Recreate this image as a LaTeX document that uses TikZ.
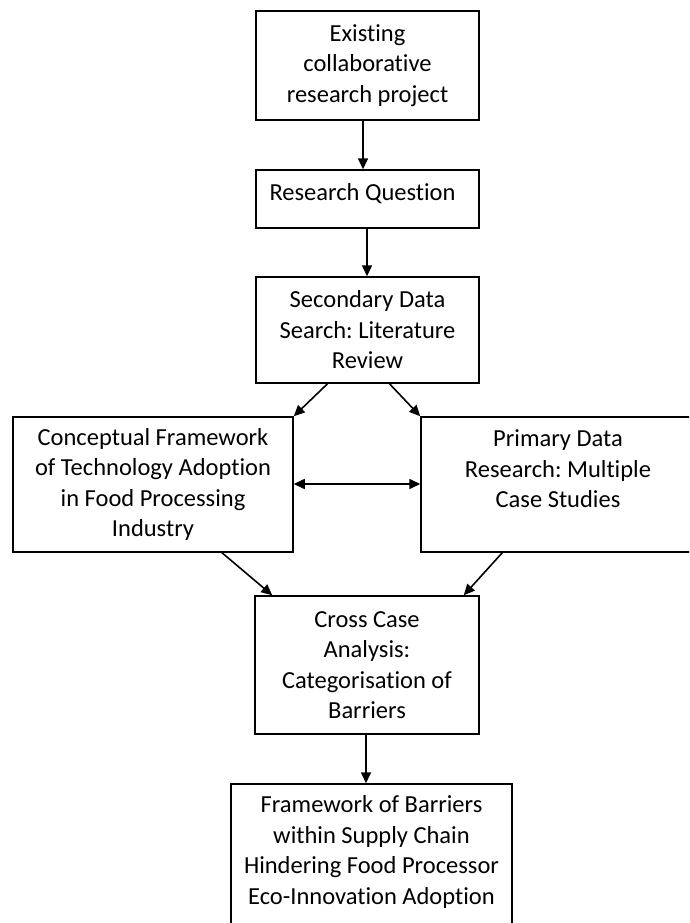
\documentclass[tikz,border=0pt]{standalone}
\usepackage{fontspec}
\setmainfont{Carlito}[Ligatures={NoCommon}]
\usetikzlibrary{arrows.meta,calc}
\frenchspacing
\begin{document}
\begin{tikzpicture}[x=1pt,y=-1pt,
  box/.style={draw=black,line width=1.5pt,rectangle,inner sep=0pt,align=center},
  txt/.style={align=center,inner sep=0pt},
  arr/.style={line width=1.6pt,-{Triangle[length=11pt,width=10pt]}},
  every node/.style={font=\fontsize{24.5}{30.5}\selectfont}]
\useasboundingbox (0,0) rectangle (689,923);
\clip (0,0) rectangle (689,923);
% boxes
\node[box,minimum width=223pt,minimum height=109pt] (b1) at (367.5,65.5) {Existing\\collaborative\\research project};
\node[box,minimum width=223pt,minimum height=58pt] (b2) at (367.5,199) {};
\node[txt] (t2) at (362.5,194) {Research Question};
\node[box,minimum width=223pt,minimum height=106pt] (b3) at (367.5,330) {Secondary Data\\Search: Literature\\Review};
\node[box,minimum width=280pt,minimum height=135pt] (bl) at (153,484.5) {Conceptual Framework\\of Technology Adoption\\in Food Processing\\Industry};
\node[box,minimum width=290pt,minimum height=135pt] (br) at (566,484.5) {};
\node[txt] (tr) at (558,469) {Primary Data\\Research: Multiple\\Case Studies};
\node[box,minimum width=224pt,minimum height=138pt] (bc) at (367,665) {Cross Case\\Analysis:\\Categorisation of\\Barriers};
\node[box,minimum width=281pt,minimum height=160pt] (bf) at (371.5,864) {};
\node[txt] (tf) at (371.5,852) {Framework of Barriers\\within Supply Chain\\Hindering Food Processor\\Eco-Innovation Adoption};
% connectors
\draw[arr] ($(b1.south)+(-4.5,0)$) -- ($(b2.north)+(-4.5,0)$);
\draw[arr] ($(b2.south)+(-0.5,0)$) -- ($(b3.north)+(-0.5,0)$);
\draw[arr] ($(b3.south)+(-40,0)$) -- (bl.north east);
\draw[arr] ($(b3.south)+(22,0)$) -- (br.north west);
\draw[line width=1.6pt,{Triangle[length=11pt,width=10pt]}-{Triangle[length=11pt,width=10pt]}] ($(bl.east)+(0,-0.5)$) -- ($(br.west)+(0,-0.5)$);
\draw[arr] ($(bl.south)+(69,0)$) -- ($(bc.north west)+(18,0)$);
\draw[arr] ($(br.south west)+(82,0)$) -- ($(bc.north east)+(-16,0)$);
\draw[arr] ($(bc.south)+(-1,0)$) -- ($(bf.north)+(-5.5,0)$);
\end{tikzpicture}
\end{document}
